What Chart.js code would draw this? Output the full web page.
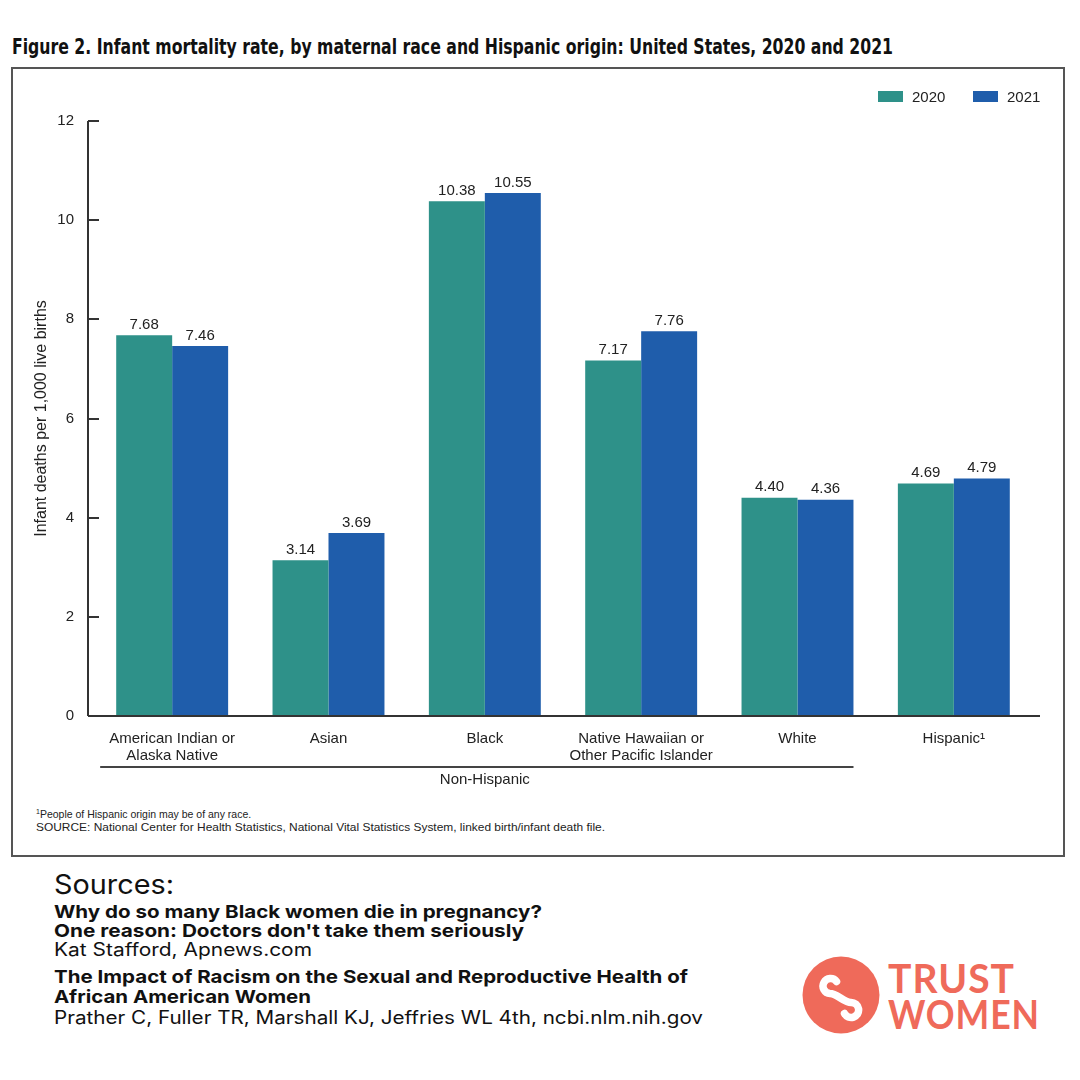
<!DOCTYPE html>
<html>
<head>
<meta charset="utf-8">
<script src="https://cdn.jsdelivr.net/npm/chart.js@4.4.0/dist/chart.umd.min.js"></script>
<style>
  html, body { margin: 0; padding: 0; background: #fff; }
  body { width: 1080px; height: 1080px; position: relative; overflow: hidden; font-family: 'Liberation Sans', Arial, sans-serif; color: #222; }
  .abs { position: absolute; white-space: nowrap; transform-origin: 0 50%; }
  #title { left: 12px; top: 35px; font-family: 'Liberation Sans Narrow', 'DejaVu Sans Condensed', sans-serif; font-weight: bold; font-size: 21px; line-height: 24px; color: #111; }
  #frame { position: absolute; left: 11px; top: 67px; width: 1050px; height: 786px; border: 2px solid #555; }
  #chartBox { position: absolute; left: 12px; top: 68px; width: 1052px; height: 724px; }
  .sw { position: absolute; width: 25px; height: 11px; }
  .lg { font-size: 15px; line-height: 16px; }
  .note { font-size: 10.5px; line-height: 13px; color: #222; left: 36px; }
  .note sup { font-size: 7px; line-height: 0; vertical-align: 4px; }
  .src { left: 54px; font-family: Inter, 'Noto Sans', sans-serif; color: #111; }
  .b { font-weight: 700; font-size: 18px; line-height: 20px; }
  .r { font-weight: 400; font-size: 18px; line-height: 20px; }
  .tw { left: 888px; font-family: Lato, 'Open Sans', sans-serif; font-weight: 700; color: #ef6a5a; font-size: 40px; line-height: 40px; letter-spacing: 1px; }
</style>
</head>
<body>
<div id="title" class="abs" data-w="881">Figure 2. Infant mortality rate, by maternal race and Hispanic origin: United States, 2020 and 2021</div>
<div id="frame"></div>
<div id="chartBox"><canvas id="chart" width="1052" height="724"></canvas></div>

<div class="sw" style="left:878px;top:91px;background:#2e9189"></div>
<div class="abs lg" style="left:912px;top:89px">2020</div>
<div class="sw" style="left:973px;top:91px;background:#1f5dab"></div>
<div class="abs lg" style="left:1007px;top:89px">2021</div>

<div class="abs note" style="top:808px"><sup>1</sup>People of Hispanic origin may be of any race.</div>
<div class="abs note" style="top:821px" data-w="569">SOURCE: National Center for Health Statistics, National Vital Statistics System, linked birth/infant death file.</div>

<div class="abs src" style="top:869px;font-size:27px;line-height:32px" data-w="120">Sources:</div>
<div class="abs src b" style="top:902px" data-w="488">Why do so many Black women die in pregnancy?</div>
<div class="abs src b" style="top:921px" data-w="470">One reason: Doctors don't take them seriously</div>
<div class="abs src r" style="top:940px" data-w="258">Kat Stafford, Apnews.com</div>
<div class="abs src b" style="top:967px" data-w="634">The Impact of Racism on the Sexual and Reproductive Health of</div>
<div class="abs src b" style="top:987px" data-w="257">African American Women</div>
<div class="abs src r" style="top:1008px" data-w="649">Prather C, Fuller TR, Marshall KJ, Jeffries WL 4th, ncbi.nlm.nih.gov</div>

<svg style="position:absolute;left:801px;top:955px" width="80" height="80" viewBox="-40 -40 80 80">
  <circle cx="0" cy="0" r="38.5" fill="#ef6a5a"/>
  <path d="M -4.5 -13.5 A 7.5 7.5 0 1 0 -11 -1.5 C -4 -1.5 3 7.5 10 7.5 A 7.5 7.5 0 1 1 3.5 18.5"
        fill="none" stroke="#fff" stroke-width="7.5" stroke-linecap="round"/>
</svg>
<div class="abs tw" style="top:958px" data-w="127">TRUST</div>
<div class="abs tw" style="top:994px" data-w="152">WOMEN</div>

<script>
// chart data
const categories = [['American Indian or', 'Alaska Native'], 'Asian', 'Black', ['Native Hawaiian or', 'Other Pacific Islander'], 'White', 'Hispanic\u00b9'];
const seriesNames = ['2020', '2021'];
const rates2020 = [7.68, 3.14, 10.38, 7.17, 4.40, 4.69];
const rates2021 = [7.46, 3.69, 10.55, 7.76, 4.36, 4.79];
const yTicks = [0, 2, 4, 6, 8, 10, 12];
const groupLabel = 'Non-Hispanic';
const groupedCount = 5; // first five categories sit under the Non-Hispanic bracket

const colors = ['#2e9189', '#1f5dab'];
const ink = '#222';
const font = "'Liberation Sans', Arial, sans-serif";

// axes, inward ticks, value labels and the Non-Hispanic bracket
const decorations = {
  id: 'decorations',
  afterDatasetsDraw(chart) {
    const ctx = chart.ctx;
    const a = chart.chartArea;
    const xs = chart.scales.x, ys = chart.scales.y;
    const axisX = a.left - 6;
    ctx.save();
    ctx.strokeStyle = '#333';
    ctx.lineWidth = 2;
    ctx.beginPath();
    ctx.moveTo(axisX, a.top);
    ctx.lineTo(axisX, a.bottom);
    ctx.moveTo(axisX, a.bottom);
    ctx.lineTo(a.right + 8, a.bottom);
    yTicks.forEach(v => {
      const y = Math.round(ys.getPixelForValue(v));
      ctx.moveTo(axisX, y);
      ctx.lineTo(axisX + 11, y);
    });
    ctx.stroke();

    ctx.fillStyle = ink;
    ctx.font = '15px ' + font;
    ctx.textAlign = 'center';
    ctx.textBaseline = 'bottom';
    chart.data.datasets.forEach((ds, i) => {
      chart.getDatasetMeta(i).data.forEach((bar, j) => {
        ctx.fillText(ds.data[j].toFixed(2), bar.x, bar.y - 3);
      });
    });

    const left = xs.getPixelForValue(0) - 72;
    const right = xs.getPixelForValue(groupedCount - 1) + 56;
    const by = a.bottom + 51;
    ctx.strokeStyle = '#444';
    ctx.lineWidth = 2;
    ctx.beginPath();
    ctx.moveTo(left, by);
    ctx.lineTo(right, by);
    ctx.stroke();
    ctx.textBaseline = 'middle';
    ctx.fillText(groupLabel, xs.getPixelForValue(2), by + 13);
    ctx.restore();
  }
};

new Chart(document.getElementById('chart'), {
  type: 'bar',
  data: {
    labels: categories,
    datasets: [
      { label: seriesNames[0], data: rates2020, backgroundColor: colors[0] },
      { label: seriesNames[1], data: rates2021, backgroundColor: colors[1] }
    ]
  },
  options: {
    responsive: false,
    animation: false,
    devicePixelRatio: 1,
    layout: { padding: { top: 53, right: 32, bottom: 0, left: 0 } },
    datasets: { bar: { categoryPercentage: 0.716, barPercentage: 1 } },
    plugins: { legend: { display: false }, tooltip: { enabled: false } },
    scales: {
      x: {
        grid: { display: false, drawTicks: false },
        border: { display: false },
        ticks: { color: ink, font: { family: font, size: 15, lineHeight: 1.14 }, padding: 14, maxRotation: 0, autoSkip: false },
        afterFit: s => { s.height = 76; }
      },
      y: {
        min: 0, max: 12,
        grid: { display: false, drawTicks: false },
        border: { display: false },
        afterBuildTicks: s => { s.ticks = yTicks.map(v => ({ value: v })); },
        ticks: { color: ink, font: { family: font, size: 15 }, padding: 20 },
        title: { display: true, text: 'Infant deaths per 1,000 live births', color: ink, font: { family: font, size: 16 }, padding: { top: 20, bottom: 0 } },
        afterFit: s => { s.width = 82; }
      }
    }
  },
  plugins: [decorations]
});

// stretch text blocks to the widths seen in the reference
document.fonts.ready.then(() => {
  document.querySelectorAll('[data-w]').forEach(el => {
    const w = el.getBoundingClientRect().width;
    const target = +el.dataset.w;
    if (w > 0) el.style.transform = 'scaleX(' + (target / w).toFixed(4) + ')';
  });
});
</script>
</body>
</html>
